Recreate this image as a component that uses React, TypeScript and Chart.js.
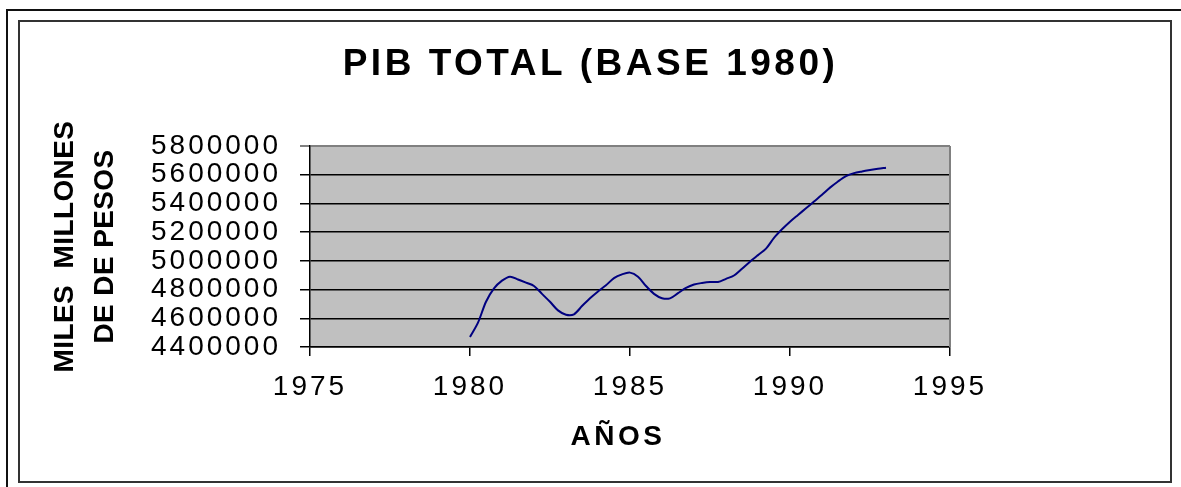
import React, { useEffect, useRef } from "react";
import { Chart, registerables, LinearScale } from "chart.js";

Chart.register(...registerables);

// ---- data ----
const CHART_TITLE = "PIB TOTAL (BASE 1980)";
const X_TITLE = "AÑOS";
const Y_TITLE = ["MILES  MILLONES", "DE DE PESOS"];

const years = [
  1980.0, 1980.25, 1980.5, 1980.75,
  1981.0, 1981.25, 1981.5, 1981.75,
  1982.0, 1982.25, 1982.5, 1982.75,
  1983.0, 1983.25, 1983.5, 1983.75,
  1984.0, 1984.25, 1984.5, 1984.75,
  1985.0, 1985.25, 1985.5, 1985.75,
  1986.0, 1986.25, 1986.5, 1986.75,
  1987.0, 1987.25, 1987.5, 1987.75,
  1988.0, 1988.25, 1988.5, 1988.75,
  1989.0, 1989.25, 1989.5, 1989.75,
  1990.0, 1990.25, 1990.5, 1990.75,
  1991.0, 1991.25, 1991.5, 1991.75,
  1992.0, 1992.25, 1992.5, 1992.75,
  1993.0,
];

const pib = [
  4470000, 4570000, 4715000, 4808000,
  4862000, 4890000, 4870000, 4848000,
  4825000, 4770000, 4715000, 4655000,
  4625000, 4628000, 4685000, 4739000,
  4787000, 4830000, 4880000, 4906000,
  4918000, 4890000, 4825000, 4770000,
  4740000, 4739000, 4775000, 4811000,
  4835000, 4846000, 4853000, 4853000,
  4875000, 4898000, 4945000, 4994000,
  5040000, 5085000, 5160000, 5220000,
  5273000, 5320000, 5366000, 5413000,
  5460000, 5510000, 5553000, 5590000,
  5611000, 5623000, 5633000, 5642000,
  5649000,
];

const X_MIN = 1975;
const X_MAX = 1995;
const X_STEP = 5;
const Y_MIN = 4400000;
const Y_MAX = 5800000;
const Y_STEP = 200000;

const FONT = "'Liberation Sans', Arial, sans-serif";

// Linear scale with letter-spaced tick labels and a configurable title spacing / shift
class SpacedLinearScale extends LinearScale {
  static id = "spacedLinear";
  static defaults = LinearScale.defaults;
  drawLabels(chartArea: any) {
    const ctx: any = this.ctx;
    const prev = ctx.letterSpacing;
    ctx.letterSpacing = "3px";
    super.drawLabels(chartArea);
    ctx.letterSpacing = prev;
  }
  drawTitle() {
    const ctx: any = this.ctx;
    const t: any = (this.options as any).title || {};
    const prev = ctx.letterSpacing;
    ctx.save();
    ctx.letterSpacing = t.letterSpacing || "0px";
    ctx.translate(t.shiftX || 0, 0);
    super.drawTitle();
    ctx.restore();
    ctx.letterSpacing = prev;
  }
}
Chart.register(SpacedLinearScale);

const plotFramePlugin = {
  id: "plotFrame",
  beforeDraw(chart: any) {
    const { ctx, chartArea: a } = chart;
    ctx.letterSpacing = "3.5px";
    ctx.save();
    ctx.fillStyle = "#c0c0c0";
    ctx.fillRect(a.left, a.top, a.right - a.left, a.bottom - a.top);
    ctx.restore();
  },
  beforeDatasetsDraw(chart: any) {
    const { ctx, chartArea: a } = chart;
    ctx.save();
    ctx.strokeStyle = "#808080";
    ctx.lineWidth = 2;
    ctx.beginPath();
    ctx.moveTo(a.right, a.top);
    ctx.lineTo(a.right, a.bottom);
    ctx.stroke();
    ctx.restore();
  },
};

export default function App() {
  const ref = useRef<HTMLCanvasElement>(null);

  useEffect(() => {
    if (!ref.current) return;
    const chart = new Chart(ref.current, {
      type: "line",
      data: {
        datasets: [
          {
            label: "PIB",
            data: years.map((x, i) => ({ x, y: pib[i] })),
            borderColor: "#000080",
            borderWidth: 2,
            pointRadius: 0,
            tension: 0.3,
            fill: false,
          },
        ],
      },
      options: {
        responsive: false,
        maintainAspectRatio: false,
        animation: false,
        devicePixelRatio: 1,
        layout: { padding: 0 },
        plugins: {
          legend: { display: false },
          tooltip: { enabled: false },
          title: {
            display: true,
            text: CHART_TITLE,
            color: "#000",
            font: { family: FONT, size: 37, weight: "bold", lineHeight: 1.2 },
            padding: { top: 42.8, bottom: 58.8 },
          },
        },
        scales: {
          x: {
            type: "spacedLinear" as any,
            min: X_MIN,
            max: X_MAX,
            ticks: {
              stepSize: X_STEP,
              color: "#000",
              font: { family: FONT, size: 28 },
              padding: 14.7,
              maxRotation: 0,
              autoSkip: false,
              callback: (v: any) => String(v),
            },
            grid: {
              drawOnChartArea: false,
              drawTicks: true,
              tickLength: 9,
              color: "#000",
              lineWidth: 1.5,
            },
            border: { color: "#000", width: 1.5 },
            title: {
              display: true,
              text: X_TITLE,
              color: "#000",
              font: { family: FONT, size: 28, weight: "bold", lineHeight: 1.2 },
              padding: { top: 0, bottom: 32.9 },
              letterSpacing: "3.5px",
              shiftX: -12,
            },
            afterFit: (s: any) => {
              s.height = 140;
            },
          },
          y: {
            type: "spacedLinear" as any,
            min: Y_MIN,
            max: Y_MAX,
            ticks: {
              stepSize: Y_STEP,
              autoSkip: false,
              color: "#000",
              font: { family: FONT, size: 28 },
              padding: 19,
              callback: (v: any) => String(v),
            },
            grid: {
              drawTicks: true,
              tickLength: 10,
              color: (c: any) => (c.tick && c.tick.value === Y_MAX ? "#808080" : "#000"),
              lineWidth: (c: any) => (c.tick && c.tick.value === Y_MAX ? 2 : 1.5),
            },
            border: { color: "#000", width: 1.5 },
            title: {
              display: true,
              text: Y_TITLE,
              color: "#000",
              font: { family: FONT, size: 28, weight: "bold", lineHeight: 40 / 28 },
              padding: { top: 45, bottom: 0 },
              letterSpacing: "0.4px",
              shiftX: 0,
            },
            afterFit: (s: any) => {
              s.width = 310;
            },
          },
          // empty right-hand spacer scale: keeps the white margin right of the plot
          spacer: {
            type: "linear",
            position: "right",
            display: true,
            grid: { display: false },
            border: { display: false },
            ticks: { display: false },
            title: { display: false },
            afterFit: (s: any) => {
              s.width = 231;
            },
          },
        },
      } as any,
      plugins: [plotFramePlugin],
    });
    return () => chart.destroy();
  }, []);

  return (
    <div
      style={{
        position: "fixed",
        left: 0,
        top: 0,
        width: 1181,
        height: 487,
        overflow: "hidden",
        background: "#fff",
      }}
    >
      <div
        style={{
          position: "absolute",
          left: 6,
          top: 9,
          width: 1300,
          height: 600,
          border: "2px solid #111",
          boxSizing: "border-box",
        }}
      />
      <div
        style={{
          position: "absolute",
          left: 18,
          top: 20,
          width: 1154,
          height: 463,
          border: "2px solid #333",
          boxSizing: "border-box",
        }}
      />
      <canvas
        ref={ref}
        width={1181}
        height={487}
        style={{ position: "absolute", left: 0, top: 0, width: 1181, height: 487 }}
      />
    </div>
  );
}
